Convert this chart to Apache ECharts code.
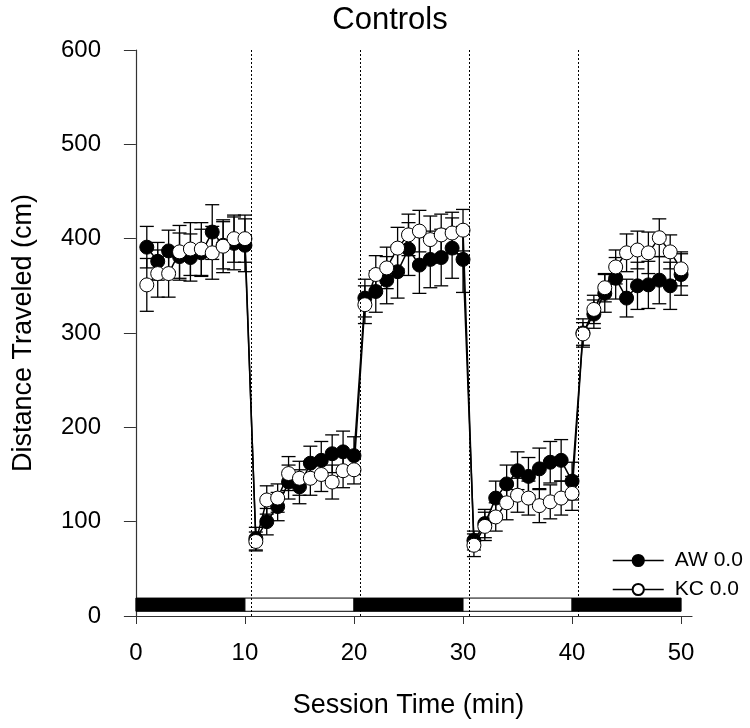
<!DOCTYPE html>
<html>
<head>
<meta charset="utf-8">
<script src="https://cdn.jsdelivr.net/npm/echarts@6/dist/echarts.min.js"></script>
<style>html,body{margin:0;padding:0;background:#fff}#c{width:750px;height:728px}</style>
</head>
<body>
<div id="c"></div>
<script>
// Session minutes (one point per minute)
var minutes = [];
for (var i = 1; i <= 50; i++) minutes.push(i);

var awMean = [391,376,387,381,380,385,407,393,395,393,
              82,100,116,142,137,162,165,172,174,170,
              337,344,356,365,389,372,378,380,390,378,
              80,98,125,140,154,148,156,163,165,143,
              300,320,342,358,337,350,351,356,350,362];
var awErr  = [22,20,22,25,25,25,29,25,28,28,
              12,14,15,18,18,18,20,20,22,20,
              20,22,25,28,28,30,30,30,32,35,
              10,15,18,20,20,20,22,22,22,20,
              15,15,20,22,20,25,25,25,25,22];
var kcMean = [351,363,363,386,389,389,385,392,400,400,
              79,123,125,151,146,146,150,142,154,155,
              330,362,369,390,404,408,399,404,406,409,
              75,95,105,120,128,125,117,121,125,130,
              299,325,348,370,385,388,385,401,386,368];
var kcErr  = [28,25,25,28,28,28,28,28,25,25,
              10,15,15,18,18,18,18,18,18,15,
              20,20,22,22,22,22,25,22,22,22,
              12,15,15,18,18,18,18,18,18,18,
              12,15,15,18,20,20,22,20,18,18];

var seriesNames = ['AW 0.0', 'KC 0.0'];
var xTicks = [0, 10, 20, 30, 40, 50];
var phaseBreaks = [10.6, 20.6, 30.6, 40.6];
// phases: [start, end, dark?]
var phases = [[0,10,1],[10,20,0],[20,30,1],[30,40,0],[40,50,1]];

function pts(m) { return minutes.map(function (x, i) { return [x, m[i]]; }); }
function errs(m, e) { return minutes.map(function (x, i) { return [x, m[i] - e[i], m[i] + e[i]]; }); }

function errRender(params, api) {
  var x = api.value(0);
  var lo = api.coord([x, api.value(1)]);
  var hi = api.coord([x, api.value(2)]);
  var w = 7;
  var st = { stroke: '#000', lineWidth: 1.3 };
  return { type: 'group', children: [
    { type: 'line', shape: { x1: lo[0], y1: lo[1], x2: hi[0], y2: hi[1] }, style: st },
    { type: 'line', shape: { x1: lo[0] - w, y1: lo[1], x2: lo[0] + w, y2: lo[1] }, style: st },
    { type: 'line', shape: { x1: hi[0] - w, y1: hi[1], x2: hi[0] + w, y2: hi[1] }, style: st }
  ]};
}

var chart = echarts.init(document.getElementById('c'), null, { renderer: 'canvas' });
var font = 'Liberation Sans, Arial, sans-serif';
chart.setOption({
  animation: false,
  backgroundColor: '#fff',
  title: { text: 'Controls', left: 385, top: 0, textAlign: 'center',
    textStyle: { fontFamily: font, fontSize: 31, fontWeight: 'normal', color: '#000' } },
  legend: {
    orient: 'vertical', left: 607, top: 545, itemWidth: 51, itemHeight: 14, itemGap: 8,
    data: seriesNames,
    lineStyle: { color: '#000', width: 1.5 },
    textStyle: { fontFamily: font, fontSize: 21, color: '#000', padding: [0, 0, 0, 6] }
  },
  grid: { left: 125, right: 58, top: 50, bottom: 112, containLabel: false },
  xAxis: {
    type: 'value', min: -1, max: 51,
    name: 'Session Time (min)', nameLocation: 'middle', nameGap: 76,
    nameTextStyle: { fontFamily: font, fontSize: 27, color: '#000' },
    axisLine: { onZero: false, lineStyle: { color: '#333', width: 1.2 } },
    axisTick: { show: true, length: 8, customValues: xTicks, lineStyle: { color: '#333' } },
    axisLabel: { customValues: xTicks, fontFamily: font, fontSize: 24, color: '#000', margin: 25 },
    splitLine: { show: false }
  },
  yAxis: {
    type: 'value', min: 0, max: 600, interval: 100,
    name: 'Distance Traveled (cm)', nameLocation: 'middle', nameGap: 88,
    nameTextStyle: { fontFamily: font, fontSize: 27, color: '#000' },
    axisLine: { show: true, lineStyle: { color: '#333', width: 1.2 } },
    axisTick: { show: true, length: 12, lineStyle: { color: '#333' } },
    axisLabel: { fontFamily: font, fontSize: 24, color: '#000', margin: 24 },
    splitLine: { show: false }
  },
  series: [
    {
      type: 'custom', name: 'phase', z: 1, silent: true,
      renderItem: function (params, api) {
        var a = api.coord([api.value(0), 19]);
        var b = api.coord([api.value(1), 5]);
        return { type: 'rect', shape: { x: a[0], y: a[1], width: b[0] - a[0], height: b[1] - a[1] },
          style: { fill: api.value(2) ? '#000' : '#fff', stroke: '#000', lineWidth: 1 } };
      },
      data: phases,
      markLine: {
        silent: true, symbol: 'none', label: { show: false },
        lineStyle: { type: [2, 2], color: '#000', width: 1 },
        data: phaseBreaks.map(function (v) { return { xAxis: v }; })
      }
    },
    { type: 'custom', name: 'awErr', z: 2, silent: true, renderItem: errRender, data: errs(awMean, awErr) },
    { type: 'custom', name: 'kcErr', z: 2, silent: true, renderItem: errRender, data: errs(kcMean, kcErr) },
    {
      type: 'line', name: seriesNames[0], z: 3, data: pts(awMean),
      symbol: 'circle', symbolSize: 14,
      lineStyle: { color: '#000', width: 1.5 },
      itemStyle: { color: '#000', borderColor: '#000', borderWidth: 1 }
    },
    {
      type: 'line', name: seriesNames[1], z: 4, data: pts(kcMean),
      symbol: 'circle', symbolSize: 14,
      lineStyle: { color: '#000', width: 1.5 },
      itemStyle: { color: '#fff', borderColor: '#000', borderWidth: 1 }
    }
  ]
});
</script>
</body>
</html>
